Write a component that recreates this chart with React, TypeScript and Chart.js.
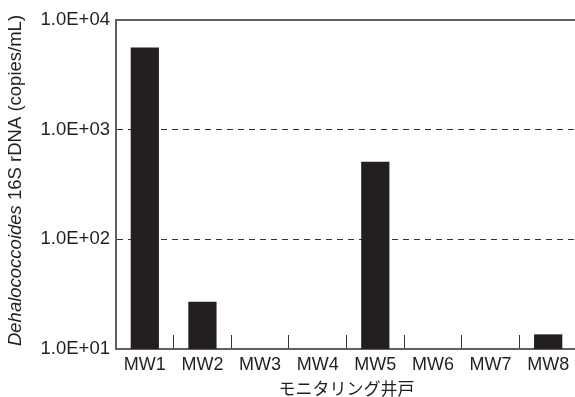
import React, { useEffect, useRef } from "react";
import { Chart, registerables } from "chart.js";

Chart.register(...registerables);

const categories = ["MW1", "MW2", "MW3", "MW4", "MW5", "MW6", "MW7", "MW8"];
const copies: (number | null)[] = [5600, 27, null, null, 510, null, null, 13.6];
const yTickValues = [10, 100, 1000, 10000];
const yTickLabels = ["1.0E+01", "1.0E+02", "1.0E+03", "1.0E+04"];
const xTitle = "モニタリング井戸";
const yTitleItalic = "Dehalococcoides";
const yTitleRest = " 16S rDNA (copies/mL)";

const FONT = "'Liberation Sans', Arial, sans-serif";
const TEXT = "#231f20";
const AXIS = "#606060";

const yTitlePlugin = {
  id: "yTitleMixed",
  afterDraw(chart: any) {
    const ctx = chart.ctx as CanvasRenderingContext2D;
    const area = chart.chartArea;
    ctx.save();
    ctx.fillStyle = TEXT;
    ctx.textBaseline = "middle";
    ctx.textAlign = "left";
    const itFont = `italic 18.5px ${FONT}`;
    const nmFont = `18.5px ${FONT}`;
    ctx.font = itFont;
    const w1 = ctx.measureText(yTitleItalic).width;
    ctx.font = nmFont;
    const w2 = ctx.measureText(yTitleRest).width;
    const total = w1 + w2;
    ctx.translate(16, (area.top + area.bottom) / 2 - 4);
    ctx.rotate(-Math.PI / 2);
    ctx.font = itFont;
    ctx.fillText(yTitleItalic, -total / 2, 0);
    ctx.font = nmFont;
    ctx.fillText(yTitleRest, -total / 2 + w1, 0);
    ctx.restore();
  },
};

export default function App() {
  const ref = useRef<HTMLCanvasElement>(null);
  useEffect(() => {
    if (!ref.current) return;
    const chart = new Chart(ref.current, {
      type: "bar",
      data: {
        labels: categories,
        datasets: [
          {
            data: copies as any,
            backgroundColor: "#231f20",
            borderWidth: 0,
            categoryPercentage: 0.49,
            barPercentage: 1,
          },
        ],
      },
      plugins: [yTitlePlugin],
      options: {
        animation: false,
        responsive: false,
        layout: { padding: { top: 20, right: 3, left: 0, bottom: 0 } },
        plugins: { legend: { display: false }, tooltip: { enabled: false } },
        scales: {
          x: {
            type: "category",
            position: "bottom",
            afterFit: (s: any) => {
              s.height = 48;
              s.paddingLeft = 0;
              s.paddingRight = 0;
            },
            grid: {
              display: true,
              drawOnChartArea: false,
              drawTicks: true,
              tickLength: -14,
              tickColor: "#333",
              tickWidth: 1,
              offset: true,
            },
            border: { display: true, color: AXIS, width: 2 },
            ticks: {
              color: TEXT,
              font: { family: FONT, size: 18 },
              padding: 19,
              maxRotation: 0,
              autoSkip: false,
            },
            title: {
              display: true,
              text: xTitle,
              color: TEXT,
              font: { family: "'Noto Sans CJK JP', sans-serif", size: 17 },
              padding: { top: 0, bottom: -2 },
            },
          },
          x2: {
            type: "category",
            position: "top",
            afterFit: (s: any) => {
              s.paddingLeft = 0;
              s.paddingRight = 0;
            },
            grid: { display: false, drawTicks: false },
            ticks: { display: false },
            border: { display: true, color: AXIS, width: 2 },
          },
          y: {
            type: "logarithmic",
            min: 10,
            max: 10000,
            afterFit: (s: any) => {
              s.width = 116;
            },
            afterBuildTicks: (s: any) => {
              s.ticks = yTickValues.map((v) => ({ value: v }));
            },
            grid: {
              drawTicks: false,
              lineWidth: 1,
              color: (c: any) =>
                c.tick && (c.tick.value === 100 || c.tick.value === 1000)
                  ? "#333"
                  : "rgba(0,0,0,0)",
            },
            border: { display: true, color: AXIS, width: 2, dash: [6, 5] },
            ticks: {
              color: TEXT,
              font: { family: FONT, size: 18.5 },
              padding: 6,
              callback: (v: any) => {
                const i = yTickValues.indexOf(Number(v));
                return i >= 0 ? yTickLabels[i] : "";
              },
            },
          },
        },
      },
    } as any);
    return () => chart.destroy();
  }, []);
  return (
    <div
      style={{
        position: "fixed",
        left: 0,
        top: 0,
        width: 575,
        height: 397,
        overflow: "hidden",
        background: "#fff",
      }}
    >
      <canvas ref={ref} width={580} height={397} style={{ width: 580, height: 397, display: "block" }} />
    </div>
  );
}
